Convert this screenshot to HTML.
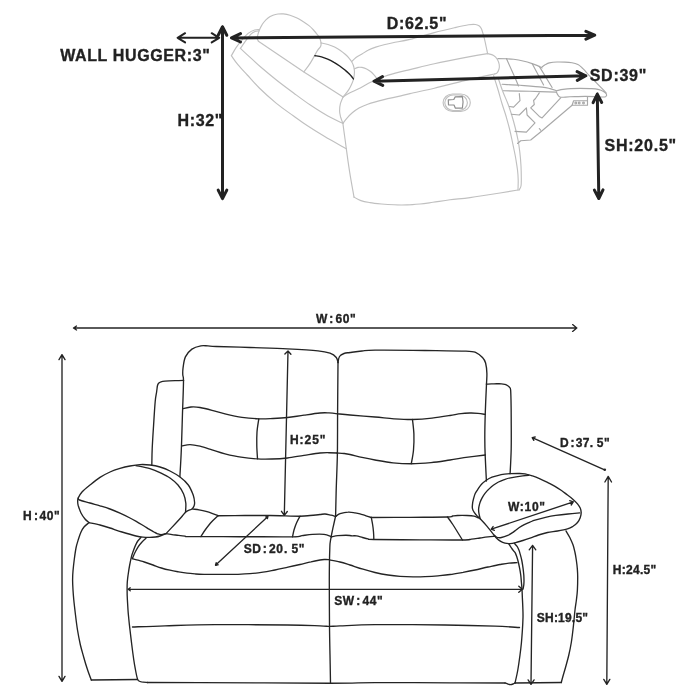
<!DOCTYPE html>
<html lang="en">
<head>
<meta charset="utf-8">
<title>Reclining loveseat dimensions</title>
<style>
html,body{margin:0;padding:0;background:#fff;}
body{width:700px;height:700px;overflow:hidden;}
svg{display:block;will-change:transform;}
text{font-family:"Liberation Sans",Arial,Helvetica,sans-serif;font-weight:bold;fill:#222;stroke:#222;stroke-width:0.35;}
.s{fill:none;stroke:#242424;stroke-width:1.35;stroke-linecap:round;stroke-linejoin:round;}
.d{fill:none;stroke:#242424;stroke-width:1.35;stroke-linecap:round;stroke-linejoin:round;}
.g{fill:none;stroke:#c0c0c0;stroke-width:1.15;stroke-linecap:round;stroke-linejoin:round;}
.m{stroke:#a8a8a8;}
.k{fill:none;stroke:#222;stroke-width:1.4;stroke-linecap:round;}
.h{fill:none;stroke:#222;stroke-width:3;stroke-linecap:round;stroke-linejoin:round;}
.w{fill:none;stroke:#222;stroke-width:2;stroke-linecap:round;stroke-linejoin:round;}
.t16{font-size:16px;}
.t12{font-size:12px;}
.ls{letter-spacing:0.5px;}
</style>
</head>
<body>
<svg width="700" height="700" viewBox="0 0 700 700">
<rect width="700" height="700" fill="#fff"/>
<!-- side view (reclined), light outline -->
<g class="g">
<path d="M303.9,71.9 C305,70.4 308.4,66.2 310.6,62.6 C312.9,59 315.7,53.3 317.4,50.6 C319.1,47.9 320,47.9 320.6,46.5 C321.2,45.1 321.2,43.9 321,42.5 C320.8,41.1 320.2,39.2 319.6,38 C319,36.8 318.6,36.3 317.6,35 C316.6,33.7 314.9,31.6 313.5,30 C312.1,28.4 310.8,27 309,25.6 C307.2,24.2 305,22.7 303,21.4 C301,20.1 299.2,18.9 297,17.9 C294.8,16.9 292.3,15.9 290,15.2 C287.7,14.5 285.3,14.1 283.3,13.9 C281.3,13.7 279.7,13.8 278,14 C276.3,14.2 274.7,14.6 273,15.3 C271.3,16 269.6,16.8 268,18 C266.4,19.2 264.8,21 263.6,22.5 C262.4,24 261.5,25.7 260.8,27 C260.1,28.3 259.7,29.2 259.2,30.5 C258.7,31.8 258.1,33.6 257.8,35 C257.5,36.4 257.1,37.6 257.2,38.6 C257.3,39.6 258.2,40.8 258.4,41.2"/>
<path d="M258.4,41.2 L303.9,71.9 L343.1,96.9"/>
<path d="M320.9,42.9 C322.1,43.2 325.7,43.8 328,44.5 C330.3,45.2 332.6,46.1 334.6,47.1 C336.6,48.1 338.3,49.1 340,50.2 C341.7,51.4 343.5,52.8 344.9,54 C346.3,55.2 347.5,56.4 348.6,57.7 C349.7,59 350.9,60.4 351.7,61.7 C352.5,63 353,64.2 353.4,65.5 C353.8,66.8 354.1,67.9 354.3,69.4 C354.5,70.9 354.5,72.8 354.3,74.5 C354.1,76.2 353.9,78 353.4,79.7 C352.9,81.4 352.2,83 351.5,84.6 C350.8,86.2 350,87.7 349.1,89.1 C348.2,90.5 347.2,91.9 346.2,93.2 C345.2,94.5 343.6,96.3 343.1,96.9"/>
<path d="M231.4,55.7 C232.2,54.4 234.3,50.2 236.1,47.6 C237.9,45 240.1,42.3 242.1,39.9 C244.1,37.5 246,35 248.1,33.4 C250.2,31.8 252.7,30.6 254.6,30 C256.5,29.4 258.5,29.7 259.3,29.6"/>
<path d="M240.4,48.4 C241.4,47 244.7,42.2 246.4,39.9 C248.1,37.5 249.3,35.7 250.7,34.3 C252.1,32.9 253.6,32.1 255,31.5 C256.4,30.9 258.2,31 258.9,30.9"/>
<path d="M240.4,48.4 C242.1,50 247.3,54.8 250.7,57.9 C254.1,61 256.7,63.6 261,67.3 C265.3,71 271,75.7 276.4,80 C281.8,84.3 287.9,88.8 293.6,93 C299.3,97.2 305,101.5 310.7,105.3 C316.4,109.1 322.5,113 327.9,116 C333.3,119 340.4,122.2 342.9,123.4"/>
<path d="M231.4,55.7 C232.5,57.2 235.2,61.5 237.9,64.7 C240.6,67.9 243.7,71.1 247.3,75 C250.9,78.9 254.5,83.3 259.3,88 C264.1,92.7 270.7,98.7 276.4,103.4 C282.1,108.1 288.5,112.3 293.6,116 C298.7,119.7 302,122.2 307.1,125.6 C312.2,129 317.8,132.5 324.3,136.3 C330.8,140.2 342.6,146.6 346.3,148.7"/>
<path d="M343.1,96.9 C342.7,98 341,101.4 340.4,103.7 C339.8,106 339.6,108.8 339.6,111 C339.6,113.2 340.1,114.9 340.6,117 C341.2,119.1 342.5,122.3 342.9,123.4"/>
<path d="M342.9,123.4 C343.2,125.5 344,131.8 344.6,136 C345.2,140.2 345.5,142.6 346.3,148.7 C347.1,154.8 348.4,164.2 349.7,172.3 C351,180.4 353.3,193 354,197.1"/>
<path d="M354,197.1 C355.1,197.7 358.2,199.7 360.9,200.6 C363.6,201.5 366.6,202 370,202.6 C373.4,203.2 377.4,203.6 381.4,204 C385.4,204.4 389.7,204.7 394,204.8 C398.3,205 402.8,205 407.1,204.9 C411.4,204.8 415.7,204.4 420,204 C424.3,203.6 427.9,203 432.9,202.3 C437.9,201.6 443.8,200.6 450,199.8 C456.2,199 461.7,198.7 470,197.6 C478.3,196.5 492,194.3 500,193 C508,191.7 515,190.5 518,190"/>
<path d="M351.7,61.7 C352.4,61 354.3,58.8 356,57.5 C357.7,56.2 360,55.2 362,54 C364,52.8 365.7,51.4 368,50.3 C370.3,49.1 373,48 375.7,47.1 C378.4,46.2 381.1,45.5 384,44.8 C386.9,44.1 388.6,43.6 392.9,42.7 C397.2,41.8 403.1,41.1 410,39.4 C416.9,37.7 426.8,34.6 434.3,32.6 C441.8,30.6 449.3,28.9 455,27.6 C460.7,26.3 465.2,25.3 468.6,24.8 C472,24.3 473.7,24.3 475.4,24.5 C477.1,24.7 478,25.1 479,25.8 C480,26.5 480.6,26.9 481.4,28.8 C482.2,30.7 483.2,34.2 484,37.1 C484.8,40 485.4,43.2 486,46 C486.6,48.8 487.3,52.3 487.6,53.6"/>
<path d="M343.1,96.9 C344.2,96.2 347.4,94.2 350,92.8 C352.6,91.4 354.9,90.6 358.6,88.7 C362.3,86.8 368,83.6 372.3,81.6 C376.6,79.6 380.3,78 384.3,76.5 C388.3,75 392,74.1 396.3,72.9 C400.6,71.8 403.7,71.1 410,69.6 C416.3,68.1 424.5,65.8 434.3,63.7 C444.1,61.6 459.7,58.6 468.6,56.9 C477.5,55.2 484.4,54.1 487.6,53.6"/>
<path d="M487.6,53.6 C488.6,53.9 492,54.5 493.6,55.5 C495.2,56.5 496.5,58 497.4,59.5 C498.3,61 498.9,62.9 499.2,64.5 C499.5,66.1 499.4,67.6 499,69 C498.6,70.4 497.9,72 497.1,72.8 C496.4,73.6 494.9,73.8 494.5,74"/>
<path d="M494.5,74 C490.2,74.9 478.6,77.2 468.6,79.6 C458.6,82 444.1,85.9 434.3,88.2 C424.5,90.5 415.9,92.2 410,93.6 C404.1,95 402.9,95.4 398.6,96.4 C394.3,97.4 389.1,98.3 384,99.6 C378.9,100.9 371.9,102.8 367.7,104.2 C363.5,105.6 361.6,106.6 359,108 C356.4,109.4 354.3,111.1 352.3,112.8 C350.3,114.5 348.4,116.5 346.8,118.3 C345.2,120.1 343.5,122.6 342.9,123.4"/>
<path d="M354.3,69 C354.9,68.7 356.7,67.7 358,67.4 C359.3,67.1 360.6,67.2 362,67.4 C363.4,67.7 365.2,68.2 366.6,68.9 C368,69.6 369.4,70.5 370.6,71.5 C371.8,72.5 373,73.7 374,74.8 C375,75.9 376.2,77.6 376.6,78.2"/>
<rect x="443.1" y="94" width="27.2" height="17.4" rx="9.5" ry="8.7"/>
<rect x="444.8" y="95" width="22.6" height="15.5" rx="8.5" ry="7.7"/>
<path style="stroke:#8e8e8e;stroke-width:1.2" d="M448.3,99.8 L453.8,99.5 L455.2,96.9 L462.4,96.7 Q463.8,102.4 462.4,108.1 L455.4,108.2 L454,105 L448.5,104.8 Z"/>
<path d="M493.6,75.7 C494.2,77.8 496.1,83.5 497.5,88 C498.9,92.5 500.4,98.3 501.8,103 C503.2,107.7 504.8,111.8 506,116 C507.2,120.2 508.3,124 509.3,128 C510.3,132 511.2,136.2 512,140 C512.8,143.8 513.6,147.7 514.3,151 C515,154.3 515.5,156.8 516,160 C516.5,163.2 517.1,166.7 517.5,170 C517.9,173.3 518.1,176.7 518.2,180 C518.3,183.3 518,188.3 518,190"/>
<path d="M498.6,79.3 C499.3,81.4 501.4,87.9 503,92 C504.6,96.1 506.5,100 508,104 C509.5,108 510.8,112 512,116 C513.2,120 514.3,124 515.3,128 C516.3,132 517.2,136 518,140 C518.8,144 519.3,147.7 519.8,152 C520.3,156.3 520.8,161.7 521,166 C521.2,170.3 521.3,174.7 521.3,178 C521.3,181.3 521.4,184 521,186 C520.6,188 519.3,189.5 519,190.2"/>
<path class="m" d="M497.9,58.6 C499.2,58.6 503.4,58.7 506,58.8 C508.6,58.9 510.8,58.9 513.6,59.3 C516.4,59.7 519.9,60.3 523,61 C526.1,61.7 529.7,62.8 532.1,63.6 C534.5,64.4 535.8,64.9 537.5,65.6 C539.2,66.3 541.3,67.5 542.1,67.9"/>
<path class="m" d="M542.1,66.8 C542.7,66.4 544.3,65.2 545.5,64.6 C546.7,63.9 547.4,63.3 549.3,62.9 C551.2,62.5 554.4,62.1 557,62 C559.6,61.9 562.5,62 565,62.1 C567.5,62.2 569.9,62.4 572,62.8 C574.1,63.2 576.2,63.8 577.9,64.6 C579.6,65.4 580.7,66.6 582,67.7 C583.3,68.8 584.3,70 585.5,71.3 C586.7,72.6 587.4,73.7 589,75.4 C590.6,77.1 592.9,79.2 595,81.4 C597.1,83.6 600,86.4 601.9,88.3 C603.8,90.2 605.4,92 606.1,92.8"/>
<path class="m" d="M506.4,58.6 L515.7,79.3 L518.5,86"/>
<path class="m" d="M532.1,63.6 L543.6,85"/>
<path class="m" d="M539.3,66.4 L552.1,87.5"/>
<path class="m" d="M502.1,84.3 C505.1,84.5 513.3,84.8 520,85.3 C526.7,85.8 537.1,86.5 542.1,87.1 C547.1,87.6 547.6,88 550,88.6 C552.4,89.2 555.3,90.3 556.4,90.7"/>
<path class="m" d="M503.6,90.7 C508,90.8 521.2,91.1 530,91.3 C538.8,91.5 552,92 556.4,92.1"/>
<path class="m" d="M556.4,90.7 C557.5,90.5 560.6,89.8 563,89.4 C565.4,89.1 567.9,88.8 570.7,88.6 C573.5,88.4 576.8,88.4 580,88.4 C583.2,88.4 587,88.4 590,88.6 C593,88.8 595.8,88.9 598,89.4 C600.2,89.9 602.1,90.6 603.5,91.4 C604.9,92.2 606,93.1 606.4,94 C606.8,94.9 606.5,96.1 605.8,96.6 C605.1,97.1 603.8,97 602,97 C600.2,97 597.8,96.7 595,96.6 C592.2,96.5 589.2,96.4 585,96.4 C580.8,96.4 574,96.7 570,96.8 C566,96.9 562.7,97.5 560.7,97.2 C558.7,96.9 558.7,96.1 558,95.2 C557.3,94.3 556.7,92.6 556.4,92.1"/>
<path class="m" d="M587.5,96.6 L587.5,105.2 L572.1,105.2 L573.6,100.7 L587.5,100.7"/>
<circle class="m" cx="575.8" cy="103" r="0.9"/>
<circle class="m" cx="579.2" cy="103" r="0.9"/>
<circle class="m" cx="583.5" cy="103" r="0.9"/>
<path class="m" d="M572.1,105.2 L542.1,130.7 L530.7,140 L520.7,140.7 L517.5,143.5"/>
<path class="m" d="M560.7,97.9 L542.1,117.9 L539.3,116.4 L530.7,107.9 L534.3,104.5 L533.6,100.5 L535.5,98.5 L539.3,92.9"/>
<path class="m" d="M519.3,93.6 L520,100.7 L513.6,107.1 L509.5,106.5"/>
<path class="m" d="M511.4,114.3 L519.3,115 L526.4,107.9 L527.1,115 L535,122.9 L526.4,132.1 L515,131.4"/>
<path class="m" d="M539.3,128.5 L540.6,130.2"/>
</g>
<g>
<path class="k" d="M314.9,55.7 C316,55.9 319.4,56.2 321.5,56.8 C323.6,57.4 325.6,58.2 327.7,59.1 C329.8,60 332,61.1 334,62.3 C336,63.4 338,64.8 339.7,66 C341.4,67.2 342.9,68.3 344.3,69.5 C345.7,70.7 347.2,71.9 348.3,72.9 C349.4,74 350.1,74.8 351,75.8 C351.9,76.8 353,78.4 353.4,78.9"/>
</g>
<!-- front view outline -->
<g class="s">
<path d="M179.9,476.5 C180.1,472.1 180.9,461.1 181.3,450 C181.8,438.9 182.2,421.5 182.6,410 C183,398.5 183.5,386.8 183.5,381 C183.5,375.2 182.9,377.1 182.8,375 C182.7,372.9 182.6,371.4 183,368.4 C183.4,365.4 183.9,360.1 185.4,356.9 C186.9,353.7 189.3,351 191.9,349.1 C194.5,347.2 198.2,346.3 200.9,345.8 C203.6,345.3 205.4,345.8 208,345.9 C210.6,346 209.3,346.2 216.3,346.5 C223.3,346.8 238.1,347.1 250,347.5 C261.9,347.9 276.2,348.2 287.5,348.8 C298.8,349.4 310.9,350.1 318,350.8 C325.1,351.5 326.9,352.1 330,353.2 C333.1,354.3 335,355.9 336.3,357.5 C337.6,359.1 337.7,361.7 338,362.5"/>
<path d="M338,362.5 C337.9,370.9 337.7,397.9 337.6,413 C337.5,428.1 337.6,440.2 337.4,453 C337.2,465.8 336.5,479.5 336.2,490 C335.9,500.5 335.7,511.7 335.6,516"/>
<path d="M338,362.5 C338.2,361.5 338.5,358 339.5,356.5 C340.5,355 342.2,354.2 344,353.5 C345.8,352.8 347,352.9 350,352.5 C353,352.1 357.8,351.4 362,351 C366.2,350.6 364.5,350.3 375,350.2 C385.5,350.1 409.8,350.3 425,350.5 C440.2,350.7 457.5,350.8 466,351.2 C474.5,351.6 473.2,351.6 476,352.6 C478.8,353.7 480.9,355.8 482.5,357.5 C484.1,359.2 484.9,360.3 485.6,363 C486.3,365.7 486.8,370.1 486.9,373.6 C487,377.1 486.8,377.6 486.5,384 C486.2,390.4 485.6,403 485.3,412 C485,421 484.8,430.6 484.8,437.9 C484.8,445.2 484.9,448.7 485.2,455.9 C485.5,463.1 486.2,476.8 486.4,481"/>
<path d="M183.6,380.4 C182.2,380.4 178.1,380.6 175,380.7 C171.9,380.8 167.3,381 165,381.2 C162.7,381.4 162.1,381.5 161,381.8 C159.9,382.1 159.2,382.5 158.6,383.2 C158,383.9 157.7,384.5 157.4,386 C157.1,387.5 157,389.4 156.6,392 C156.2,394.6 155.7,396 155.2,401.5 C154.7,407 154.1,417.1 153.6,425 C153.1,432.9 152.5,442 152.2,448.7 C151.9,455.4 151.9,462.3 151.8,465"/>
<path d="M486.3,384.1 C487.6,384.1 491.5,383.9 494,383.8 C496.5,383.8 499.7,383.7 501.5,383.8 C503.3,383.9 503.9,384.1 505,384.4 C506.1,384.7 507,385.2 507.8,385.7 C508.6,386.2 509.1,386.7 509.6,387.4 C510.1,388.1 510.4,387.6 510.6,389.7 C510.8,391.8 510.9,395.4 511,400 C511.1,404.6 511.2,409.1 511.2,417.2 C511.2,425.3 511.4,439.3 511.2,448.7 C511,458.1 510.3,469.5 510.1,473.6"/>
<path d="M182.6,408.8 C184,408.5 188.1,407.2 191,407 C193.9,406.8 196.5,406.9 200,407.5 C203.5,408.1 207.8,409.2 212,410.3 C216.2,411.4 220,412.6 225,413.8 C230,415 236.4,416.5 242,417.3 C247.6,418.1 253.6,418.6 258.8,418.8 C264,419 268.2,418.7 273,418.5 C277.8,418.3 282.3,418.1 287.5,417.5 C292.7,416.9 298.6,415.9 304,415.2 C309.4,414.4 315.8,413.4 320,413 C324.2,412.6 326.1,412.8 329,412.9 C331.9,413 336.1,413.6 337.5,413.8"/>
<path d="M337.5,413.8 C339.6,414 343.8,414.5 350,415 C356.2,415.5 367.7,416.4 375,417 C382.3,417.6 387.8,418.4 394,418.8 C400.2,419.2 406.2,419.6 412.5,419.5 C418.8,419.4 425.8,418.9 432,418.2 C438.2,417.5 445.2,416.3 450,415.5 C454.8,414.7 457.7,414 461,413.6 C464.3,413.2 467.2,413.1 470,413 C472.8,412.9 475.5,413.1 478,413.3 C480.5,413.5 484,414.2 485.2,414.4"/>
<path d="M258.8,418.8 C258.5,421 257.3,427.5 257,432 C256.7,436.5 256.7,441.5 256.8,446 C256.9,450.5 257.4,456.7 257.5,458.8"/>
<path d="M412.5,419.5 C412.7,421.9 413.7,428.9 413.9,434 C414.1,439.1 413.9,445.1 413.5,450 C413.1,454.9 411.7,461.3 411.3,463.6"/>
<path d="M181.6,446 C183,445.8 186.9,444.6 190,444.6 C193.1,444.6 196.3,445.3 200,446.2 C203.7,447.1 207.8,448.5 212,449.8 C216.2,451.1 220.2,452.6 225,453.8 C229.8,455 235.6,456.4 241,457.2 C246.4,458 252.3,458.6 257.5,458.9 C262.7,459.2 267,459.1 272,459 C277,458.9 282.2,458.6 287.5,458 C292.8,457.4 298.6,456.1 304,455.3 C309.4,454.5 315.8,453.4 320,453 C324.2,452.6 326.2,452.7 329,452.7 C331.8,452.7 335.7,452.9 337,453"/>
<path d="M337,453 C338.2,453.1 341.8,453.2 344,453.5 C346.2,453.8 347,453.9 350,454.5 C353,455.1 357.8,456.5 362,457.4 C366.2,458.3 369.8,459.1 375,460 C380.2,460.9 386.9,462.2 393,462.8 C399.1,463.4 405,463.7 411.3,463.7 C417.6,463.7 424.6,463.2 431,462.6 C437.4,462 443.8,460.9 450,460 C456.2,459.1 462.1,458 468,457.2 C473.9,456.4 482.4,455.4 485.3,455"/>
<path d="M166,533.6 C167.7,531.8 173.4,525.8 176,523 C178.6,520.2 179.9,518.8 181.5,517 C183.1,515.2 184.3,513.3 185.5,512.2 C186.7,511.1 187.5,510.9 188.6,510.4 C189.7,509.9 191.1,509.7 192,509 C192.9,508.3 193.6,507.1 194,506 C194.4,504.9 194.7,504.3 194.6,502.5 C194.5,500.7 194.2,497.9 193.2,495 C192.1,492.1 190.5,488 188.3,485 C186.1,482 183.1,479.3 180,477 C176.9,474.7 173.3,472.7 170,471 C166.7,469.3 163.3,468 160,467 C156.7,466 153.3,465.4 150,465 C146.7,464.6 143.3,464.4 140,464.6 C136.7,464.8 133.3,465.4 130,466 C126.7,466.6 123.3,467.4 120,468.4 C116.7,469.4 113.3,470.5 110,472 C106.7,473.5 103.3,475.2 100,477.4 C96.7,479.6 93,482.6 90,485 C87,487.4 84,489.8 82,492 C80,494.2 78.9,496.3 78.2,498 C77.5,499.7 77.7,500.8 77.7,502 C77.7,503.2 77.7,503.7 78.2,505.5 C78.8,507.3 79.9,510.8 81,513 C82.1,515.2 83.7,517.4 85,519 C86.3,520.6 88.3,522 89,522.6"/>
<path d="M89,522.6 C90.8,523 96.5,524.1 100,525 C103.5,525.9 106.3,526.8 110,528 C113.7,529.2 117.7,530.7 122,532 C126.3,533.3 132.5,535.1 136,536 C139.5,536.9 140.7,537 143,537.2 C145.3,537.4 147.9,537.4 150,537.4 C152.1,537.4 153.8,537.2 155.5,537 C157.2,536.8 158.2,536.6 160,536 C161.8,535.4 165,534 166,533.6"/>
<path d="M78.2,498 C78.4,498.3 77.5,499.2 79.5,500 C81.5,500.8 86.6,502 90,503 C93.4,504 96.7,504.8 100,505.8 C103.3,506.8 106.7,507.8 110,509 C113.3,510.2 116.7,511.7 120,513.2 C123.3,514.7 127.2,516.6 130,518 C132.8,519.4 134.7,520.5 137,521.8 C139.3,523.1 142,524.8 144,526 C146,527.2 147.3,528.2 149,529.2 C150.7,530.2 152.6,531.2 154,532 C155.4,532.8 156.3,533.4 157.5,533.8 C158.7,534.2 159.6,534.6 161,534.6 C162.4,534.6 165.2,533.8 166,533.6"/>
<path d="M136,465.6 C138.3,466.1 146,467.4 150,468.6 C154,469.8 156.7,471 160,472.6 C163.3,474.2 167,475.9 170,478 C173,480.1 175.7,482.3 178,485 C180.3,487.7 182.3,491 183.6,494 C184.9,497 185.5,500 185.8,503 C186.1,506 185.6,510.7 185.5,512.2"/>
<path d="M89,522.6 C88.2,523.3 85.4,525.4 84,527 C82.6,528.6 81.7,530.5 80.8,532.5 C79.9,534.5 79.3,536.4 78.5,539 C77.7,541.6 76.7,544.5 76,548 C75.3,551.5 74.7,556.2 74.2,560 C73.7,563.8 73.3,567.7 73,571 C72.7,574.3 72.6,576.8 72.6,580 C72.6,583.2 72.8,586.7 73,590 C73.2,593.3 73.4,595.8 73.8,600 C74.2,604.2 74.9,610 75.5,615 C76.1,620 76.7,625 77.5,630 C78.3,635 79.4,640.4 80.4,645 C81.5,649.6 82.7,653.5 83.8,657.5 C84.9,661.5 86,665.2 87.3,669 C88.5,672.8 90.6,678.2 91.3,680"/>
<path d="M91.3,680 L137.5,679.5"/>
<path d="M140.9,537.5 C140.4,538.1 138.7,539.8 137.8,541 C136.9,542.2 136.4,543.2 135.7,544.9 C134.9,546.6 134,549 133.3,551 C132.6,553 132,554.4 131.4,556.9 C130.8,559.4 130.1,562.9 129.5,566 C128.9,569.1 128.4,573 128,575.7 C127.6,578.4 127.5,579.7 127.3,582 C127.1,584.3 127.1,586.4 127.1,589.4 C127.1,592.4 127.2,596.6 127.4,600 C127.6,603.4 127.8,606.7 128,610 C128.2,613.3 128.6,616.7 128.9,620 C129.2,623.3 129.5,625.8 130,630 C130.5,634.2 131.2,640 131.8,645 C132.4,650 133.2,655.8 133.8,660 C134.4,664.2 134.9,666.8 135.5,670 C136.1,673.2 136.9,677.2 137.5,679 C138.1,680.8 138.3,680.5 139,681 C139.7,681.5 140.1,681.6 141.5,681.9 C142.9,682.1 146.5,682.4 147.5,682.5"/>
<path d="M146,538.3 C145.3,538.9 143.1,540.8 141.8,542.2 C140.5,543.6 139.4,544.9 138.3,546.6 C137.2,548.3 136,550.5 135,552.5 C134,554.5 132.8,557.6 132.3,558.6"/>
<path d="M132.3,558.6 C133.2,558.9 136,559.6 138,560.2 C140,560.8 141.8,561.2 144.3,562 C146.8,562.8 150.2,564 153,565 C155.8,566 158.6,567.1 161.4,568 C164.2,568.9 167.1,569.6 170,570.2 C172.9,570.9 175.8,571.4 178.6,571.9 C181.4,572.4 184.2,572.9 187,573.2 C189.8,573.6 192.9,573.8 195.7,574 C198.5,574.2 201.1,574.3 204,574.4 C206.9,574.5 209.4,574.4 212.9,574.4 C216.4,574.4 220.8,574.3 225,574.3 C229.2,574.3 233.8,574.4 238,574.3 C242.2,574.2 245.8,574.1 250,573.7 C254.2,573.4 258.8,572.8 263,572.2 C267.2,571.6 270.8,570.8 275,570 C279.2,569.2 283.8,568.1 288,567.2 C292.2,566.3 296.2,565.4 300,564.5 C303.8,563.6 307.7,562.5 311,561.8 C314.3,561 317.7,560.4 320,560 C322.3,559.6 323.4,559.6 325,559.5 C326.6,559.4 328.8,559.6 329.5,559.6"/>
<path d="M329.5,560 C331.2,560.3 336.6,561.2 340,562 C343.4,562.8 346.2,563.8 350,565 C353.8,566.2 358.8,568 363,569.2 C367.2,570.5 370.8,571.5 375,572.5 C379.2,573.5 383.8,574.4 388,575 C392.2,575.6 395.8,576 400,576.3 C404.2,576.6 408.8,576.8 413,576.9 C417.2,577 420.8,576.9 425,576.7 C429.2,576.5 433.8,576.2 438,575.8 C442.2,575.4 445.8,575.1 450,574.5 C454.2,573.9 458.8,573.1 463,572.4 C467.2,571.6 470.8,570.9 475,570 C479.2,569.1 483.8,567.9 488,567 C492.2,566.1 496.5,565.1 500,564.5 C503.5,563.9 506.2,563.4 509,563.1 C511.8,562.8 515.7,562.7 517,562.6"/>
<path d="M335.6,516 C335.4,516.8 334.9,519.3 334.5,521 C334.1,522.7 333.7,524.5 333.3,526.3 C332.9,528 332.6,529.8 332.2,531.5 C331.8,533.2 331.5,535.2 331.2,536.8 C330.9,538.4 330.6,539.5 330.4,541 C330.2,542.5 330,542.6 329.9,545.7 C329.8,548.8 329.6,553.7 329.5,559.4 C329.4,565.1 329.3,569.1 329.3,580 C329.3,590.9 329.4,612.5 329.5,625 C329.6,637.5 329.8,645.3 330,655 C330.2,664.7 330.4,678.3 330.5,683"/>
<path d="M192.3,508.9 C193.4,509.1 196.7,509.5 199,509.9 C201.3,510.3 203.8,510.8 206,511.4 C208.2,512 210,512.6 212,513.3 C214,514 217,515.3 218,515.7"/>
<path d="M218,515.7 C222.5,515.7 236.3,515.5 245,515.5 C253.7,515.5 260.8,515.4 270,515.5 C279.2,515.6 293.3,516.2 300,516.2 C306.7,516.2 306.7,515.8 310,515.5 C313.3,515.2 317.5,514.8 320,514.5 C322.5,514.2 323.2,513.9 325,514 C326.8,514.1 329.2,514.8 331,515.2 C332.8,515.6 334.8,516.3 335.6,516.5"/>
<path d="M335.6,516.5 C336.4,516 338,514.4 340.1,513.7 C342.2,513 345.6,512.2 348.1,512.1 C350.6,511.9 353,512.5 355,512.8 C357,513.1 358.2,513.3 360,513.8 C361.8,514.3 364.1,515.2 366,515.8 C367.9,516.4 370.4,517.2 371.3,517.5"/>
<path d="M371.3,517.5 C377.8,517.5 397.3,517.4 410,517.3 C422.7,517.2 440.4,517.2 447.5,517 C454.6,516.8 450.8,516.2 452.5,516 C454.2,515.8 455.1,515.6 457.5,515.5 C459.9,515.4 464.2,515.4 467,515.5 C469.8,515.6 472.1,515.7 474,516.1 C475.9,516.5 477.8,517.7 478.5,518"/>
<path d="M166,533.7 C167,533.9 169.9,534.3 172,534.6 C174.1,534.9 176.4,535.1 178.6,535.4 C180.8,535.7 183,536 185,536.2 C187,536.4 181.4,536.5 190.6,536.6 C199.8,536.7 223,536.7 240,536.7 C257,536.7 282.2,537 292.5,536.8 C302.8,536.6 298.7,536 302,535.6 C305.3,535.2 308.8,534.6 312.5,534.4 C316.2,534.2 320.9,534 324,534.4 C327.1,534.8 330,536.3 331.2,536.7"/>
<path d="M331.2,537 C332.3,536.8 335.4,536 337.9,535.7 C340.4,535.4 343.6,535.2 346,535.2 C348.4,535.2 350.2,535.7 352,535.8 C353.8,535.9 354.8,535.6 356.5,535.9 C358.2,536.2 360.6,537 362.5,537.5 C364.4,538 366.1,538.5 368,538.8 C369.9,539.1 365.1,539.3 373.8,539.5 C382.5,539.7 405.2,539.7 420,539.8 C434.8,539.9 453.9,540.1 462.5,540 C471.1,539.9 468.6,539.5 471.5,539.2 C474.4,538.9 477.2,538.4 480,538 C482.8,537.6 485.5,537.2 488,536.9 C490.5,536.6 493.8,536.4 495,536.3"/>
<path d="M218,515.7 C216.9,516.8 213.6,519.7 211.5,522 C209.4,524.3 207.3,527.1 205.5,529.5 C203.7,531.9 201.7,535.4 200.9,536.6"/>
<path d="M300,516.2 C299.4,517.3 297.5,520.7 296.5,523 C295.5,525.3 294.7,527.7 294,530 C293.3,532.3 292.8,535.7 292.5,536.8"/>
<path d="M371.3,517.5 C371.5,518.7 372.2,522.1 372.6,524.5 C373,526.9 373.3,529.5 373.5,532 C373.7,534.5 373.8,538.1 373.8,539.3"/>
<path d="M447.5,517 C448.4,518.2 451.1,521.9 452.8,524.5 C454.5,527.1 456.2,529.9 457.8,532.5 C459.4,535.1 461.7,538.8 462.5,540"/>
<path d="M132.5,627 C137.9,626.8 151.2,626.2 165,625.8 C178.8,625.4 194.6,624.7 215,624.6 C235.4,624.5 270,624.8 287.5,625 C305,625.2 313,625.6 320,625.8 C327,626 326.2,626.4 329.5,626.4 C332.8,626.4 332.4,626.2 340,625.9 C347.6,625.6 357.5,624.8 375,624.6 C392.5,624.5 425,624.7 445,625 C465,625.3 482.6,625.8 495,626.2 C507.4,626.6 515.4,627.3 519.5,627.5"/>
<path d="M147.5,682.5 C156.2,682.5 169.6,682.5 200,682.6 C230.4,682.7 300.8,683.2 330,683.2 C359.2,683.2 355,682.7 375,682.6 C395,682.5 428.3,682.8 450,682.9 C471.7,683 495.8,683 505,683"/>
<path d="M505,683 C505.5,683.2 507.1,683.9 508,684.2 C508.9,684.5 509.7,684.6 510.5,684.6 C511.3,684.6 512.2,684.3 513,684 C513.8,683.7 514.7,683.2 515,683"/>
<path d="M515,683 L561.3,682.5"/>
<path d="M508.6,543.6 C509.1,544.3 510.6,546.8 511.4,547.9 C512.2,549 512.5,549.5 513.2,550.4 C513.9,551.3 514.6,551.4 515.4,553.1 C516.2,554.8 517.2,557.9 517.9,560.5 C518.6,563.1 519.2,566.1 519.7,568.6 C520.2,571.1 520.5,573.2 520.8,575.5 C521.1,577.8 521.2,580 521.4,582.3 C521.6,584.5 521.9,586.7 522,589 C522.1,591.3 522.2,593 522.3,596 C522.4,599 522.7,603.4 522.8,607 C522.9,610.6 523.1,613.7 523,617.5 C522.9,621.3 522.7,625.8 522.4,630 C522.1,634.2 521.8,638.8 521.4,643 C521,647.2 520.6,650.5 520,655 C519.4,659.5 518.6,665.3 517.8,670 C517,674.7 515.5,680.8 515,683"/>
<path d="M514.3,543.2 C514.8,543.7 516.3,545.3 517.1,546.4 C517.9,547.5 518.4,548.9 518.9,550 C519.4,551.1 519.4,551.4 519.9,553.1 C520.4,554.9 521.3,557.9 521.8,560.5 C522.3,563.1 522.8,566.2 523.1,568.6 C523.4,571 523.6,573 523.8,575 C523.9,577 524,578.9 524,580.6 C524,582.3 523.9,583.6 523.8,585 C523.6,586.4 523.2,588.3 523.1,589"/>
<path d="M566,530.9 C566.6,532 568.6,535.2 569.8,537.5 C570.9,539.8 572,542.2 572.9,544.6 C573.8,547 574.3,549.4 574.9,552 C575.5,554.6 575.9,557.2 576.3,560 C576.7,562.8 577.1,565.7 577.3,568.5 C577.5,571.3 577.7,573.4 577.7,577 C577.7,580.6 577.6,586.2 577.4,590 C577.2,593.8 576.8,596.7 576.4,600 C576,603.3 575.5,605.7 575,610 C574.5,614.3 574,620.6 573.4,626 C572.8,631.4 572.1,637.6 571.3,642.5 C570.5,647.4 569.7,651.3 568.7,655.5 C567.7,659.7 566.4,664.2 565.5,667.5 C564.6,670.8 564,672.5 563.3,675 C562.6,677.5 561.6,681.2 561.3,682.5"/>
<path d="M472.3,507.5 C472.2,506.2 472.5,504 472.7,502.5 C472.9,501 473.2,500 473.6,498.5 C474,497 474.5,495 475.2,493.5 C475.9,492 476.8,490.9 477.8,489.3 C478.9,487.8 480.1,485.7 481.5,484.2 C482.9,482.7 484.6,481.4 486.3,480.2 C488.1,479 490,478 492,477.2 C494,476.4 496.4,475.8 498.5,475.3 C500.6,474.8 502.5,474.5 504.5,474.2 C506.5,473.9 508.4,473.7 510.6,473.6 C512.9,473.5 515.6,473.5 518,473.5 C520.4,473.5 522.6,473.4 525,473.8 C527.4,474.2 530,475.1 532.5,475.9 C535,476.7 537.5,477.7 540,478.8 C542.5,479.9 545,481.1 547.5,482.3 C550,483.6 552.7,484.9 555,486.3 C557.3,487.7 559.4,489.1 561.5,490.5 C563.6,491.9 565.6,493.6 567.5,495 C569.4,496.4 571.1,497.7 572.8,499.2 C574.5,500.7 576.3,502.3 577.5,503.8 C578.7,505.3 579.6,506.6 580.2,508 C580.8,509.4 581.2,510.9 581.2,512.5 C581.2,514.1 580.8,516.1 580.2,517.8 C579.6,519.5 578.7,521.1 577.5,522.5 C576.3,523.9 574.7,525.2 573,526.3 C571.3,527.3 570.1,528 567.5,528.8 C564.9,529.6 560.8,530.4 557.5,531 C554.2,531.6 550.7,531.8 547.5,532.5 C544.3,533.2 541.4,534 538.5,535 C535.6,536 532.6,537.3 530,538.2 C527.4,539.1 525.3,539.8 522.9,540.5 C520.5,541.2 517.9,542.1 515.7,542.6 C513.6,543.1 511.8,543.5 510,543.6 C508.2,543.7 506.6,543.6 505,543.2 C503.4,542.8 502.1,542.3 500.7,541.4 C499.3,540.5 497.7,539.2 496.4,537.9 C495.1,536.6 494.4,535.5 492.9,533.6 C491.3,531.7 489.2,528.9 487.1,526.4 C485,523.9 481.9,520.6 480.2,518.8 C478.5,517 477.7,516.6 476.8,515.6 C475.9,514.6 475.2,513.7 474.6,512.8 C474,511.9 473.4,511.2 473,510.3 C472.6,509.4 472.4,508.8 472.3,507.5Z"/>
<path d="M529,475.2 C528,475.3 525.9,475.5 522.8,475.9 C519.7,476.3 513.7,477.2 510.6,477.8 C507.5,478.4 506.3,478.9 504.3,479.6 C502.3,480.3 500.3,481.1 498.5,482 C496.7,482.9 494.9,484.1 493.3,485.3 C491.7,486.5 490.1,488 488.7,489.3 C487.3,490.6 486.1,492 485,493.4 C483.9,494.8 482.9,496.4 482.1,497.8 C481.3,499.2 480.7,500.6 480.2,502 C479.7,503.4 479.3,505 479,506.3 C478.7,507.6 478.6,508.8 478.6,510 C478.6,511.2 478.7,512.1 479,513.6 C479.3,515.1 480,517.9 480.2,518.8"/>
<path d="M494.2,535.3 C494.6,535.6 495.6,536.6 496.4,537 C497.2,537.4 498,537.6 498.8,537.7 C499.6,537.8 500,537.8 501.4,537.5 C502.8,537.2 505.3,536.5 507.1,535.7 C508.9,534.9 510.7,533.8 512.1,532.9 C513.5,532 514.6,531.1 515.8,530.2 C517,529.3 517.9,528.4 519.3,527.5 C520.7,526.6 522.5,525.5 524.3,524.6 C526.1,523.7 528.2,522.8 530,522.1 C531.8,521.4 532.4,521 535,520.2 C537.6,519.4 542,518.1 545.5,517.3 C549,516.5 552,515.9 555.7,515.4 C559.5,514.9 564,514.4 568,514 C572,513.6 577.8,513.1 579.7,512.9"/>
</g>
<!-- dimension lines -->
<g>
<path class="h" d="M222.5,26.8 L222.5,198.6 M226.8,35.3 L222.5,26.8 L218.2,35.3 M218.2,190.1 L222.5,198.6 L226.8,190.1"/>
<path class="h" d="M231.5,37.9 L594.7,35.2 M240.5,33.6 L231.5,37.9 L240.5,42 M585.9,39.2 L594.7,35.2 L585.9,31.4"/>
<path class="h" d="M374,81.2 L585.8,75.8 M382.5,76.6 L374,81.2 L382.7,85.4 M577.3,80.4 L585.8,75.8 L577.1,71.6"/>
<path class="h" d="M597.3,94.1 L598.8,198.5 M601.7,102.5 L597.3,94.1 L593.1,102.7 M594.4,190.1 L598.8,198.5 L603,189.9"/>
<path class="w" d="M177.6,37.8 L219.2,37.8 M185.1,33.2 L177.6,37.8 L185.1,42.4 M211.7,42.4 L219.2,37.8 L211.7,33.2"/>
<path class="d" d="M73.5,328 L576.8,328 M76.5,326 L73.5,328 L76.5,330 M572.6,331.4 L576.8,328 L572.6,324.6"/>
<path class="d" d="M62,354.6 L62,681.4 M65,359.6 L62,354.6 L59,359.6 M59,676.4 L62,681.4 L65,676.4"/>
<path class="d" d="M288,351 L284.3,515.4 M290.9,354.3 L288,351 L284.9,354.1 M281.5,511.3 L284.3,515.4 L287.3,511.5"/>
<path class="d" d="M267.9,516.5 L215.7,565.1 M267.4,518.6 L267.9,516.5 L265.8,516.8 M216.2,562.7 L215.7,565.1 L218.1,564.8"/>
<path class="d" d="M128.2,589.3 L522.4,589.3 M130.2,587.8 L128.2,589.3 L130.2,590.8 M518.8,592.3 L522.4,589.3 L518.8,586.3"/>
<path class="d" d="M491.3,529.2 L573.3,501.9 M493.1,526.5 L491.3,529.2 L494.4,530.3 M571.2,505 L573.3,501.9 L569.7,500.7"/>
<path class="d" d="M532.6,545.4 L531,684.4 M535.8,549.8 L532.6,545.4 L529.2,549.8 M528.1,679.9 L531,684.4 L534.1,679.9"/>
<path class="d" d="M608.2,476.4 L606.8,684.4 M611.5,482 L608.2,476.4 L604.9,482 M603.8,679.4 L606.8,684.4 L609.8,679.4"/>
<path class="d" d="M532.2,437.6 L604.6,469.8 M535.2,437 L532.2,437.6 L533.8,440.3"/>
<circle cx="215.9" cy="564.9" r="1.1" fill="#242424"/>
<circle cx="604.8" cy="469.8" r="1.3" fill="#242424"/>
</g>
<!-- labels -->
<g>
<text class="t16" x="60.2" y="60.7" textLength="149.6" lengthAdjust="spacing">WALL HUGGER:3&quot;</text>
<text class="t16" x="177.6" y="126.2" textLength="44.8" lengthAdjust="spacing">H:32&quot;</text>
<text class="t16" x="386.8" y="29.3" textLength="59.7" lengthAdjust="spacing">D:62.5&quot;</text>
<text class="t16" x="589.7" y="80.9" textLength="56.6" lengthAdjust="spacing">SD:39&quot;</text>
<text class="t16" x="604.5" y="150.9" textLength="71.7" lengthAdjust="spacing">SH:20.5&quot;</text>
<text class="t12 ls" y="322.8"><tspan x="316.1">W</tspan><tspan x="329.2">:</tspan><tspan x="335.6">60&quot;</tspan></text>
<text class="t12 ls" y="519.8"><tspan x="23.1">H</tspan><tspan x="34">:</tspan><tspan x="39.6">40&quot;</tspan></text>
<text class="t12 ls" y="447.3"><tspan x="560">D</tspan><tspan x="570.4">:</tspan><tspan x="575.7">37</tspan><tspan x="589.8">.</tspan><tspan x="596.8">5&quot;</tspan></text>
<text class="t12 ls" y="553.4"><tspan x="243.7">SD</tspan><tspan x="262.7">:</tspan><tspan x="269.1">20</tspan><tspan x="284">.</tspan><tspan x="291.6">5&quot;</tspan></text>
<text class="t12 ls" y="604.5"><tspan x="334.3">SW</tspan><tspan x="356.2">:</tspan><tspan x="362.6">44&quot;</tspan></text>
<text class="t12" x="290" y="443.6" textLength="35.5" lengthAdjust="spacing">H:25&quot;</text>
<text class="t12" x="508" y="510.6" textLength="37" lengthAdjust="spacing">W:10&quot;</text>
<text class="t12" x="612.7" y="574" textLength="43.5" lengthAdjust="spacing">H:24.5&quot;</text>
<text class="t12" x="536.8" y="622" textLength="51.2" lengthAdjust="spacing">SH:19.5&quot;</text>
</g>
</svg>
</body>
</html>
